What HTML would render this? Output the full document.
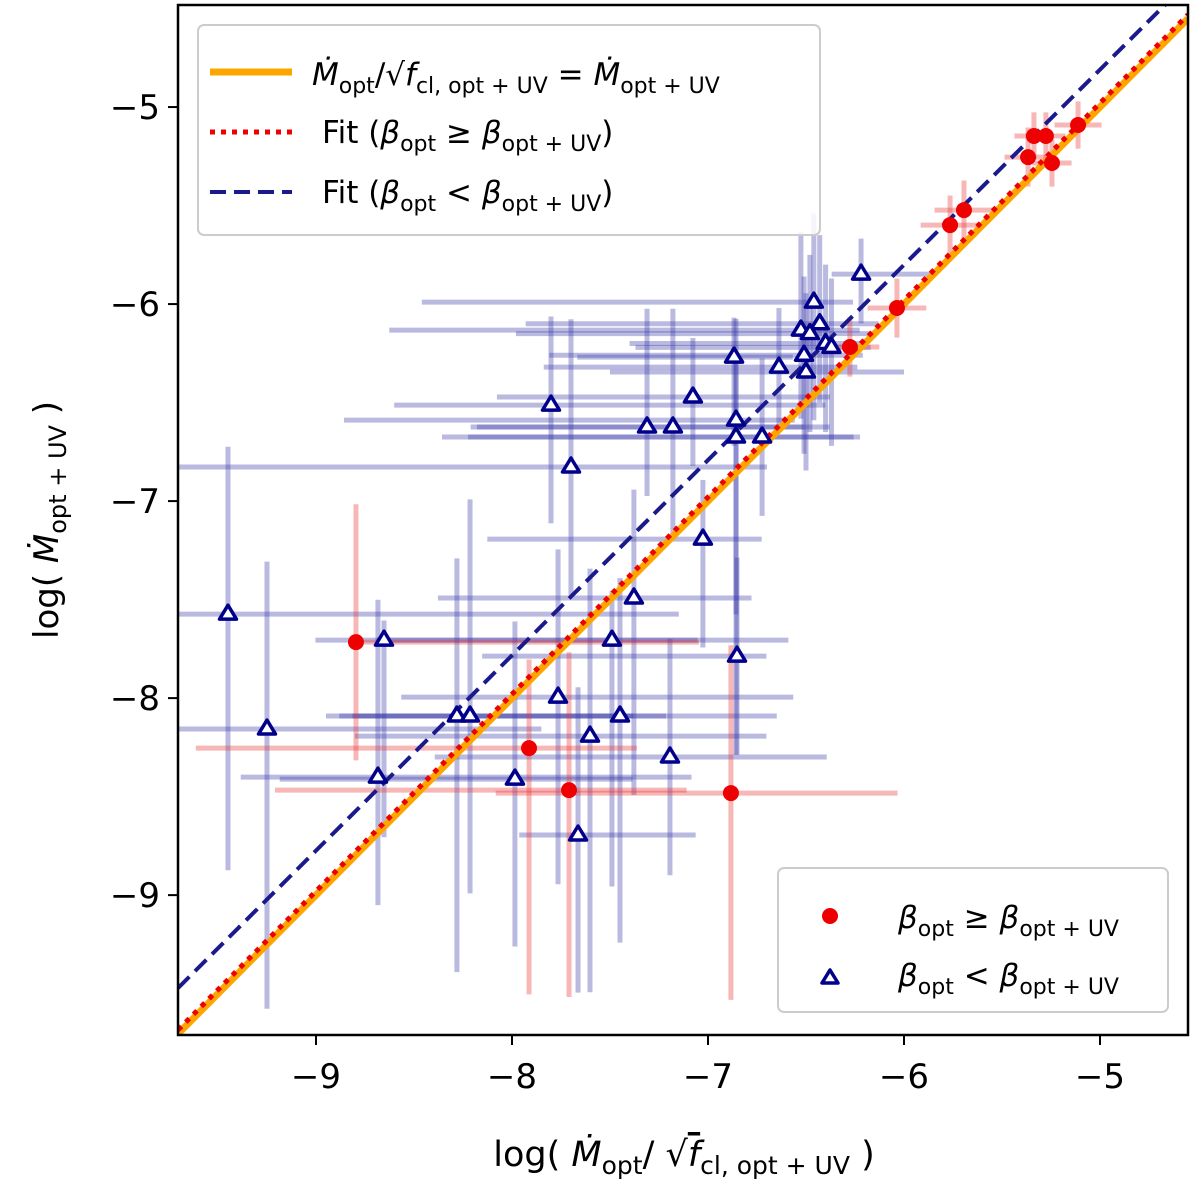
<!DOCTYPE html>
<html><head><meta charset="utf-8"><style>
body{margin:0;background:#fff}
svg{display:block;font-family:"DejaVu Sans","Liberation Sans",sans-serif}
</style></head><body>
<svg id="chart" width="1200" height="1193" viewBox="0 0 1200 1193">
<defs><clipPath id="clip"><rect x="178" y="5" width="1010" height="1030"/></clipPath></defs>
<g id="errs" clip-path="url(#clip)"></g>
<g id="lines" clip-path="url(#clip)"></g>
<g id="marks" clip-path="url(#clip)"></g>
<rect x="178" y="5" width="1010" height="1030" fill="none" stroke="#000" stroke-width="2.5"/>
<g id="ticks"></g>
<text x="684" y="1166" font-size="35" text-anchor="middle">log( <tspan font-style="italic">Ṁ</tspan><tspan font-size="25" dy="8">opt</tspan><tspan dy="-8">/ √</tspan><tspan font-style="italic" text-decoration="overline">f</tspan><tspan font-size="25" dy="8">cl, opt + UV</tspan><tspan dy="-8">  )</tspan></text>
<text transform="translate(58,520) rotate(-90)" font-size="34" text-anchor="middle">log( <tspan font-style="italic">Ṁ</tspan><tspan font-size="24" dy="8">opt + UV</tspan><tspan dy="-8"> )</tspan></text>
<g>
<rect x="198" y="25" width="622" height="210" rx="6" fill="#fff" fill-opacity="0.85" stroke="#ccc" stroke-width="2"/>
<line x1="210" y1="72" x2="292" y2="72" stroke="#ffa500" stroke-width="7"/>
<text x="312" y="85" font-size="31"><tspan font-style="italic">Ṁ</tspan><tspan font-size="22" dy="8">opt</tspan><tspan dy="-8">/√</tspan><tspan font-style="italic">f</tspan><tspan font-size="22" dy="8">cl, opt + UV</tspan><tspan dy="-8"> = </tspan><tspan font-style="italic">Ṁ</tspan><tspan font-size="22" dy="8">opt + UV</tspan></text>
<line x1="210" y1="132" x2="292" y2="132" stroke="#e00" stroke-width="5" stroke-dasharray="5,6"/>
<text x="322" y="143" font-size="31">Fit (<tspan font-style="italic">β</tspan><tspan font-size="22" dy="8">opt</tspan><tspan dy="-8"> ≥ </tspan><tspan font-style="italic">β</tspan><tspan font-size="22" dy="8">opt + UV</tspan><tspan dy="-8">)</tspan></text>
<line x1="210" y1="192" x2="292" y2="192" stroke="#1a1a8c" stroke-width="4" stroke-dasharray="16,8"/>
<text x="322" y="203" font-size="31">Fit (<tspan font-style="italic">β</tspan><tspan font-size="22" dy="8">opt</tspan><tspan dy="-8"> &lt; </tspan><tspan font-style="italic">β</tspan><tspan font-size="22" dy="8">opt + UV</tspan><tspan dy="-8">)</tspan></text>
</g>
<g>
<rect x="778" y="868" width="390" height="144" rx="6" fill="#fff" fill-opacity="0.85" stroke="#ccc" stroke-width="2"/>
<circle cx="830" cy="916" r="8" fill="#e00"/>
<text x="898" y="928" font-size="31"><tspan font-style="italic">β</tspan><tspan font-size="22" dy="8">opt</tspan><tspan dy="-8"> ≥ </tspan><tspan font-style="italic">β</tspan><tspan font-size="22" dy="8">opt + UV</tspan></text>
<path d="M830,970 l-8,13 h16 z" fill="#fff" stroke="#00008b" stroke-width="3.5" stroke-linejoin="round"/>
<text x="898" y="986" font-size="31"><tspan font-style="italic">β</tspan><tspan font-size="22" dy="8">opt</tspan><tspan dy="-8"> &lt; </tspan><tspan font-style="italic">β</tspan><tspan font-size="22" dy="8">opt + UV</tspan></text>
</g>
</svg>
<script>
const xTicks=[-9,-8,-7,-6,-5];
const yTicks=[-5,-6,-7,-8,-9];
const tickLabels=["−9","−8","−7","−6","−5"];
const redX=[-5.112,-5.276,-5.337,-5.367,-5.245,-5.694,-5.765,-6.036,-6.276,-8.796,-7.913,-7.709,-6.883];
const redY=[-5.091,-5.147,-5.147,-5.254,-5.284,-5.523,-5.599,-6.020,-6.218,-7.716,-8.254,-8.467,-8.482];
const redXL=[0.12,0.1,0.1,0.12,0.1,0.15,0.15,0.15,0.15,0.0,1.7,1.5,1.2];
const redXR=[0.12,0.1,0.1,0.12,0.1,0.15,0.15,0.15,0.15,1.75,0.55,0.6,0.85];
const redYD=[0.12,0.12,0.12,0.15,0.12,0.15,0.15,0.15,0.15,0.6,1.25,1.05,1.05];
const redYU=[0.12,0.12,0.12,0.15,0.12,0.15,0.15,0.15,0.15,0.7,0.45,0.7,0.75];
const blueX=[-9.449,-9.25,-8.684,-8.653,-8.281,-8.214,-7.985,-7.765,-7.699,-7.801,-7.663,-7.602,-7.49,-7.449,-7.378,-7.311,-7.179,-7.194,-7.077,-7.026,-6.867,-6.857,-6.857,-6.852,-6.724,-6.638,-6.526,-6.5,-6.51,-6.46,-6.43,-6.40,-6.37,-6.219,-6.48];
const blueY=[-7.574,-8.157,-8.401,-7.706,-8.091,-8.091,-8.411,-7.995,-6.827,-6.513,-8.695,-8.193,-7.706,-8.091,-7.492,-6.624,-6.624,-8.299,-6.472,-7.193,-6.269,-6.589,-6.675,-7.787,-6.675,-6.320,-6.132,-6.345,-6.26,-5.99,-6.10,-6.20,-6.22,-5.848,-6.15];
const blueXL=[0.27,0.45,0.7,0.35,0.6,0.6,1.2,0.8,2.3,0.8,0.3,1.2,1.2,1.5,1.0,0.9,1.0,1.2,1.0,1.1,0.8,2.0,1.5,1.3,1.5,1.2,2.1,1.0,1.3,2.0,1.5,1.0,1.0,0.15,1.5];
const blueXR=[2.3,1.4,1.6,1.6,0.9,1.0,0.6,1.2,1.0,1.4,0.6,0.9,0.9,0.8,0.6,0.8,0.8,0.8,0.7,0.3,0.3,0.3,0.6,0.15,0.5,0.4,0.3,0.5,0.3,0.2,0.3,0.2,0.2,0.35,0.3];
const blueYD=[1.3,1.42,0.65,1.0,1.3,0.9,0.85,0.95,0.65,0.6,0.8,1.3,1.25,1.15,1.0,0.35,0.55,0.6,0.35,0.55,0.45,1.7,0.9,0.5,0.4,0.3,0.45,0.5,0.5,0.6,0.4,0.45,0.5,0.25,0.5];
const blueYU=[0.85,0.85,0.9,0.1,0.8,1.1,0.8,0.75,0.75,0.45,0.75,0.85,0.25,0.7,0.55,0.6,0.6,0.6,0.3,0.3,0.2,0.3,0.6,0.5,0.4,0.3,0.5,0.4,0.4,0.45,0.45,0.4,0.35,0.18,0.4];
const fitRed=[1.0,0.02];
const fitBlue=[0.991,0.145];
const X0=-9.704,X1=-4.551,Y0=-9.71,Y1=-4.482;
const sx=v=>178+(v-X0)/(X1-X0)*1010;
const sy=v=>1035-(v-Y0)/(Y1-Y0)*1030;
const NS="http://www.w3.org/2000/svg";
function mk(tag,attrs,parent){const e=document.createElementNS(NS,tag);for(const k in attrs)e.setAttribute(k,attrs[k]);parent.appendChild(e);return e;}
const ticks=document.getElementById('ticks'),errs=document.getElementById('errs'),lines=document.getElementById('lines'),marks=document.getElementById('marks');
xTicks.forEach((v,i)=>{
  const l=mk('line',{x1:sx(v),x2:sx(v),y1:1035,y2:1045,stroke:'#000','stroke-width':2},ticks);
  
  
  const t=mk('text',{x:sx(v),y:1088,'font-size':34,'text-anchor':'middle'},ticks);t.textContent=tickLabels[i];
  
  
});
yTicks.forEach((v,i)=>{
  const l=mk('line',{x1:168,x2:178,y1:sy(v),y2:sy(v),stroke:'#000','stroke-width':2},ticks);
  
  
  const t=mk('text',{x:160,y:sy(v)+12,'font-size':34,'text-anchor':'end'},ticks);t.textContent=tickLabels[4-i];
  
  
});
function drawErr(xs,ys,xl,xr,yd,yu,col){
  xs.forEach((x,i)=>{
    const h=mk('line',{x1:sx(x-xl[i]),x2:sx(x+xr[i]),y1:sy(ys[i]),y2:sy(ys[i]),stroke:col,'stroke-width':5,'stroke-opacity':0.35},errs);
    
    
    const v=mk('line',{x1:sx(x),x2:sx(x),y1:sy(ys[i]-yd[i]),y2:sy(ys[i]+yu[i]),stroke:col,'stroke-width':5,'stroke-opacity':0.35},errs);
    
    
  });
}
drawErr(blueX,blueY,blueXL,blueXR,blueYD,blueYU,'#3a3aa8');
drawErr(redX,redY,redXL,redXR,redYD,redYU,'#e83030');
const o=mk('line',{x1:sx(X0),y1:sy(X0),x2:sx(X1),y2:sy(X1),stroke:'#ffa500','stroke-width':7},lines);


const r=mk('line',{x1:sx(X0),y1:sy(fitRed[0]*X0+fitRed[1]),x2:sx(X1),y2:sy(fitRed[0]*X1+fitRed[1]),stroke:'#e00','stroke-width':5,'stroke-dasharray':'5,6'},lines);


const b=mk('line',{x1:sx(X0),y1:sy(fitBlue[0]*X0+fitBlue[1]),x2:sx(X1),y2:sy(fitBlue[0]*X1+fitBlue[1]),stroke:'#1a1a8c','stroke-width':4,'stroke-dasharray':'16,8'},lines);


blueX.forEach((x,i)=>{
  const cx=sx(x),cy=sy(blueY[i]);
  const p=mk('path',{d:`M${cx},${cy-9} l-8.5,14 h17 z`,fill:'#fff',stroke:'#00008b','stroke-width':3.5,'stroke-linejoin':'round'},marks);
  
  
});
redX.forEach((x,i)=>{
  const c=mk('circle',{cx:sx(x),cy:sy(redY[i]),r:8,fill:'#e00'},marks);
  
  
});
</script>
</body></html>
